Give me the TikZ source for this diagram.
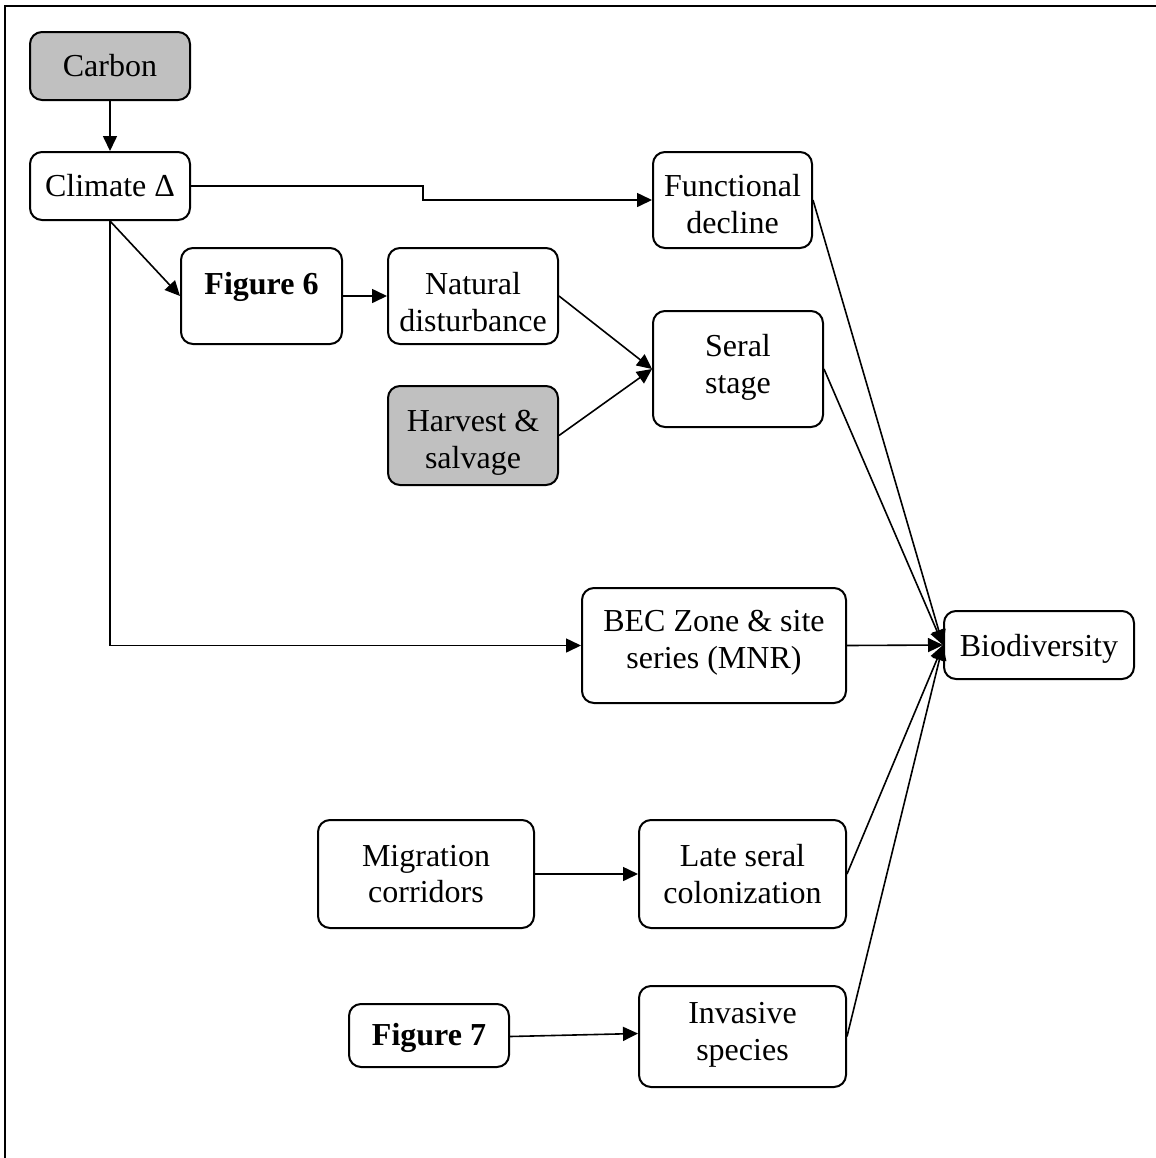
\documentclass[tikz,border=0pt]{standalone}
\usepackage{fontspec}
\setmainfont{Liberation Serif}
\usepackage{xcolor}
\usepackage{tikz}
\usetikzlibrary{arrows.meta}
\usetikzlibrary{positioning}
\definecolor{boxgrey}{RGB}{192,192,192}
\tikzset{box/.style ={draw, rounded corners=6pt, line width=1pt, align=center, inner sep=0pt}}
\tikzset{greybox/.style ={box, fill=boxgrey}}
\tikzset{link/.style ={->, line width=0.8pt}}
\newcommand{\lowstrut}[1]{\rule{0pt}{#1}}
\newcommand{\highstrut}[1]{\rule[-#1]{0pt}{#1}}
\begin{document}
\begin{tikzpicture}[x=0.5pt, y=-0.5pt, >={Triangle[length=7.5pt,width=7pt]}, font=\fontsize{16}{18.4}\selectfont]
\useasboundingbox (0,0) rectangle (1156,1158);
\draw[line width=1pt] (5,1158) -- (5,6) -- (1156,6);
\node [greybox, minimum width=80pt, minimum height=34pt] (carbon) at (110,66) {Carbon};
\node [box, minimum width=80pt, minimum height=34pt] (climate) at (110,186) {Climate Δ};
\node [box, minimum width=79.5pt, minimum height=48pt] (func) at (732.5,200) {\lowstrut{15pt}Functional\\decline};
\node [box, minimum width=80.5pt, minimum height=48pt] (fig6) at (261.5,296) {\lowstrut{17pt}\textbf{Figure 6}\\\mbox{}};
\node [box, minimum width=85pt, minimum height=48pt] (natdist) at (473,296) {\lowstrut{17pt}Natural\\disturbance};
\node [greybox, minimum width=85pt, minimum height=49.5pt] (harvest) at (473,435.5) {\lowstrut{18pt}Harvest \&\\salvage};
\node [box, minimum width=85pt, minimum height=58pt] (seral) at (738,369) {Seral\\stage\highstrut{5.5pt}};
\node [box, minimum width=132pt, minimum height=57.5pt] (bec) at (714,645.5) {BEC Zone \& site\\series (MNR)\highstrut{6.5pt}};
\node [box, minimum width=95pt, minimum height=34pt] (biodiv) at (1039,645) {\lowstrut{15pt}Biodiversity};
\node [box, minimum width=108pt, minimum height=54pt] (migr) at (426,874) {Migration\\corridors};
\node [box, minimum width=103.5pt, minimum height=54pt] (late) at (742.5,874) {Late seral\\colonization};
\node [box, minimum width=80pt, minimum height=31.5pt] (fig7) at (429,1035.5) {\lowstrut{14pt}\textbf{Figure 7}};
\node [box, minimum width=103.5pt, minimum height=50.5pt] (invasive) at (742.5,1036.5) {Invasive\\species\highstrut{5.5pt}};
\coordinate (jog) at (423,186);
\draw [link] (carbon.south) -- (climate.north);
\draw [link] (climate.east) -- (jog) -- (jog |- func.west) -- (func.west);
\draw [link] (climate.south) -- (fig6.west);
\draw [link] (climate.south) |- (bec.west);
\draw [link] (fig6.east) -- (natdist.west);
\draw [link] (natdist.east) -- (seral.west);
\draw [link] (harvest.east) -- (seral.west);
\draw [link] (func.east) -- (biodiv.west);
\draw [link] (seral.east) -- (biodiv.west);
\draw [link] (bec.east) -- (biodiv.west);
\draw [link] (late.east) -- (biodiv.west);
\draw [link] (invasive.east) -- (biodiv.west);
\draw [link] (migr.east) -- (late.west);
\draw [link] ([yshift=-0.5pt]fig7.east) -- ([yshift=1.5pt]invasive.west);
\end{tikzpicture}
\end{document}
